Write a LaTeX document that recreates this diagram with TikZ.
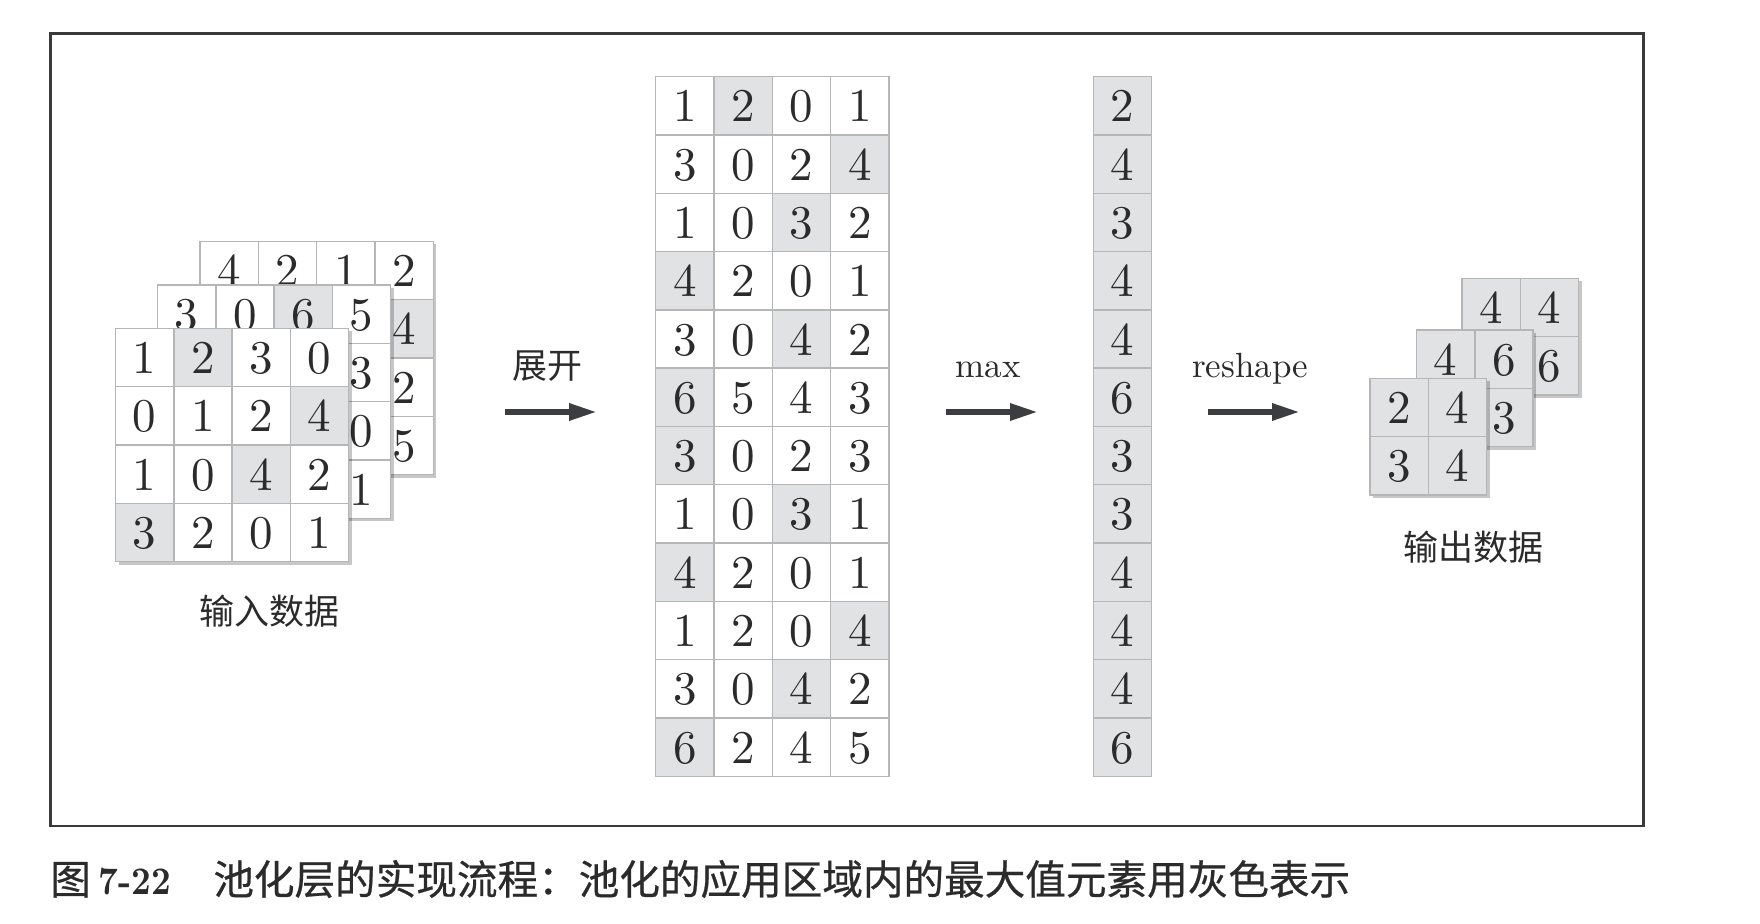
\documentclass[tikz,border=0pt]{standalone}
\usepackage{fontspec}
\setmainfont{lmroman10-regular.otf}[BoldFont=lmroman10-bold.otf]
\usepackage{tikz}
\usetikzlibrary{arrows.meta,positioning,calc,shadows}
\newfontfamily\cjk{Noto Sans CJK SC}
\newfontfamily\cjkcap{Noto Sans CJK SC}[FakeBold=0.6]
\definecolor{cellgray}{HTML}{E1E2E4}
\definecolor{cellline}{HTML}{B6B6B6}
\definecolor{ink}{HTML}{2B2B2B}
\definecolor{arrowgray}{HTML}{3C3D40}
\definecolor{framegray}{HTML}{3A3A3C}
\newcommand{\cellsz}{58.3}
% one grid of cells: [base fill]{name}{top left}{rows as {values}/gray column}
\newcommand{\cellgrid}[4][white]{%
  \foreach \vals/\gcol [count=\row] in {#4} {
    \foreach \val [count=\col] in \vals {
      \def\fc{#1}\ifnum\col=\gcol\def\fc{cellgray}\fi
      \node[cell, fill=\fc] (#2-\row-\col)
        at ($(#3)+(\col*\cellsz-.5*\cellsz, \row*\cellsz-.5*\cellsz)$) {\val};
    }
  }%
}
\tikzset{
  cell/.style={draw=cellline, line width=0.7pt, minimum size=29.15pt,
               inner sep=0pt, text=ink, font=\fontsize{23.5}{24}\selectfont,
               text height=16pt, text depth=0pt},
  layer/.style={anchor=north west, fill=white, inner sep=0pt, minimum size=116.6pt,
                drop shadow={shadow xshift=1.3pt, shadow yshift=-1.3pt,
                             fill=black, opacity=.22}},
  smalllayer/.style={layer, minimum size=58.3pt},
  lbl/.style={font=\fontsize{17.5}{20}\selectfont, text=ink, inner sep=0pt},
  fat/.style={-{Triangle[length=14pt, width=8pt]}, line width=3pt, draw=arrowgray},
}

\begin{document}
\begin{tikzpicture}[x=0.5pt, y=-0.5pt]
  \path[fill=white, use as bounding box] (0,0) rectangle (1760,924);
  \draw[framegray, line width=1.3pt] (50.7,33.7) rectangle (1643.3,826);

  % input data, back to front
  \node[layer] (in3) at (200,241.5) {};
  \cellgrid{in3}{in3.north west}{{4,2,1,2}/0, {0,1,0,4}/4, {3,0,6,2}/3, {4,2,4,5}/0}
  \node[layer] (in2) at (157.5,285) {};
  \cellgrid{in2}{in2.north west}{{3,0,6,5}/3, {4,2,4,3}/1, {3,0,1,0}/1, {2,3,3,1}/3}
  \node[layer] (in1) at (115.5,328.5) {};
  \cellgrid{in1}{in1.north west}{{1,2,3,0}/2, {0,1,2,4}/4, {1,0,4,2}/3, {3,2,0,1}/1}
  \node[lbl] (inlbl) at (269,611) {\cjk 输入数据};

  % unfolded rows
  \coordinate (mat) at (655.7,76.7);
  \cellgrid{mat}{mat}{{1,2,0,1}/2, {3,0,2,4}/4, {1,0,3,2}/3, {4,2,0,1}/1,
    {3,0,4,2}/3, {6,5,4,3}/1, {3,0,2,3}/1, {1,0,3,1}/3,
    {4,2,0,1}/1, {1,2,0,4}/4, {3,0,4,2}/3, {6,2,4,5}/1}

  % row maxima
  \coordinate (maxc) at (1093.3,76.7);
  \cellgrid{maxc}{maxc}{{2}/1, {4}/1, {3}/1, {4}/1, {4}/1, {6}/1,
    {3}/1, {3}/1, {4}/1, {4}/1, {4}/1, {6}/1}

  % output data, back to front
  \node[smalllayer] (out3) at (1462,278.5) {};
  \cellgrid[cellgray]{out3}{out3.north west}{{4,4}/0, {4,6}/0}
  \node[smalllayer] (out2) at (1416.5,330) {};
  \cellgrid[cellgray]{out2}{out2.north west}{{4,6}/0, {3,3}/0}
  \node[smalllayer] (out1) at (1370,378.5) {};
  \cellgrid[cellgray]{out1}{out1.north west}{{2,4}/0, {3,4}/0}
  \node[lbl] (outlbl) at (1473.5,547) {\cjk 输出数据};

  % steps
  \node[lbl] (unfold) at (547,366) {\cjk 展开};
  \node[lbl, anchor=base] (maxlbl) at (988,378) {max};
  \node[lbl, anchor=base] (reshlbl) at (1250,378) {reshape};
  \coordinate (u0) at (505,412);  \coordinate (u1) at (597,412);
  \coordinate (m0) at (946,412);  \coordinate (m1) at (1038,412);
  \coordinate (r0) at (1208,412); \coordinate (r1) at (1300,412);
  \draw[fat] (u0) -- (u1);
  \draw[fat] (m0) -- (m1);
  \draw[fat] (r0) -- (r1);

  \node[anchor=west, inner sep=0pt, text=ink, font=\fontsize{20.3}{22}\selectfont] (caption) at (50,879)
    {{\cjkcap 图}\hspace{4pt}\scalebox{0.88}[1]{\fontsize{19.5}{20}\selectfont\bfseries 7-22}\hspace{21pt}{\cjkcap 池化层的实现流程：池化的应用区域内的最大值元素用灰色表示}};
\end{tikzpicture}
\end{document}
